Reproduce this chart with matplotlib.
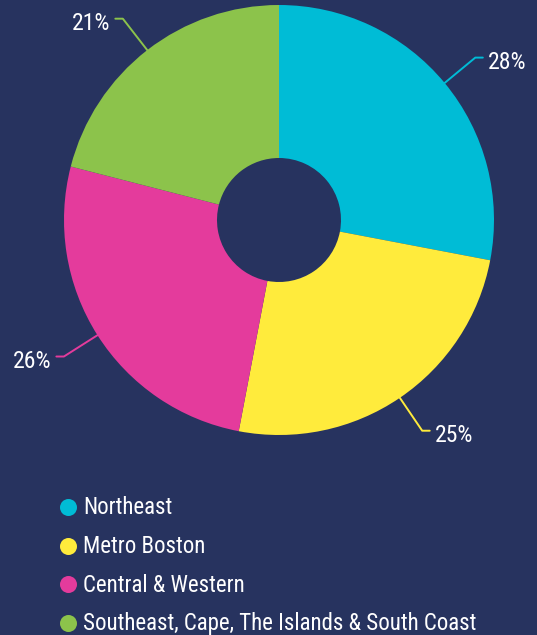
import numpy as np
import matplotlib
matplotlib.use('Agg')
import matplotlib.pyplot as plt
from matplotlib import font_manager

# Data
regions = ['Northeast', 'Metro Boston', 'Central & Western',
           'Southeast, Cape, The Islands & South Coast']
shares = [28, 25, 26, 21]
colors = ['#00BCD6', '#FFEB3C', '#E43B9C', '#8CC34B']
bg = '#27335F'


# Pick a narrow / condensed face if one is installed
def pick_font():
    prefs = ['Liberation Sans Narrow', 'Roboto Condensed', 'Open Sans Condensed',
             'Noto Sans', 'DejaVu Sans', 'Roboto', 'Open Sans', 'Lato', 'Inter']
    found = []
    for f in font_manager.fontManager.ttflist:
        narrow = ('Narrow' in f.name or 'Condensed' in f.name
                  or 'ondensed' in str(f.stretch) or 'Condensed' in f.fname)
        if not narrow or f.style != 'normal':
            continue
        if f.weight not in (400, 'normal', 'regular', 'book'):
            continue
        rank = next((i for i, p in enumerate(prefs) if f.name.startswith(p)), 99)
        found.append((rank, f.fname))
    if found:
        found.sort()
        return font_manager.FontProperties(fname=found[0][1])
    return font_manager.FontProperties(family='DejaVu Sans')


fp = pick_font()

fig = plt.figure(figsize=(5.37, 6.35), dpi=100, facecolor=bg)
renderer = fig.canvas.get_renderer()


def fit_size(txt, width_px, cap):
    t = fig.text(0, 0, txt, fontproperties=fp, fontsize=10)
    w = t.get_window_extent(renderer).width
    t.remove()
    return min(cap, 10 * width_px / w)


# Pie axes: centre at (279, 220) px from top-left, radius 215 px
W, H = 537, 635
cx, cy, R = 279, 220, 215
ax = fig.add_axes([(cx - R) / W, (H - cy - R) / H, 2 * R / W, 2 * R / H])
ax.set_facecolor(bg)
wedges, _ = ax.pie(shares, colors=colors, startangle=90, counterclock=False,
                   radius=1, wedgeprops=dict(width=1 - 62 / 215, linewidth=0))
ax.set_xlim(-1, 1)
ax.set_ylim(-1, 1)
ax.set_aspect('equal')
ax.axis('off')

# Leader lines and percentage labels
pct_size = fit_size('28%', 38, 18)
for w, s, c in zip(wedges, shares, colors):
    mid = np.deg2rad((w.theta1 + w.theta2) / 2)
    x0, y0 = np.cos(mid), np.sin(mid)
    x1, y1 = 1.185 * x0, 1.185 * y0
    side = 1 if x0 > 0 else -1
    x2 = x1 + side * 0.035
    ax.plot([x0, x1, x2], [y0, y1, y1], color=c, lw=1.4, clip_on=False,
            solid_joinstyle='round', solid_capstyle='round')
    ax.text(x2 + side * 0.025, y1 - 0.012, f'{s}%', color='white',
            fontproperties=fp, fontsize=pct_size,
            ha='left' if side > 0 else 'right', va='center_baseline')

# Legend
leg_size = fit_size(regions[-1], 405, 16.5)
lax = fig.add_axes([0, 0, 1, 1])
lax.set_xlim(0, W)
lax.set_ylim(H, 0)
lax.axis('off')
for i, (name, c) in enumerate(zip(regions, colors)):
    y = 507 + i * 38.5
    lax.scatter([68], [y], s=150, color=c, linewidths=0)
    lax.text(83, y + 1, name, color='white', fontproperties=fp, fontsize=leg_size,
             ha='left', va='center')

fig.savefig('out.png', dpi=100, facecolor=bg)
